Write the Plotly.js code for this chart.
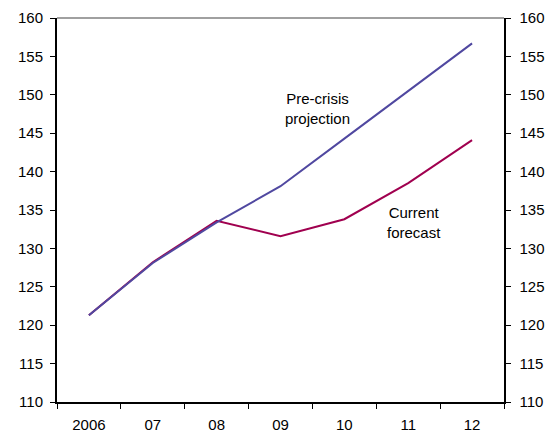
<!DOCTYPE html>
<html>
<head>
<meta charset="utf-8">
<script src="https://cdn.plot.ly/plotly-3.0.1.min.js"></script>
<style>html,body{margin:0;padding:0;background:#fff;}#chart{width:551px;height:435px;}</style>
</head>
<body>
<div id="chart"></div>
<script>
const years = ["2006", "07", "08", "09", "10", "11", "12"];
const preCrisis = [121.3, 128.1, 133.4, 138.1, 144.3, 150.5, 156.7];
const currentForecast = [121.3, 128.2, 133.6, 131.6, 133.8, 138.5, 144.1];
const yTicks = [110, 115, 120, 125, 130, 135, 140, 145, 150, 155, 160];

const font = {family: "Liberation Sans, Arial, sans-serif", size: 15, color: "#000"};

const traces = [
  {x: years, y: currentForecast, type: "scatter", mode: "lines", name: "Current forecast",
   line: {color: "#A0004F", width: 2}, hoverinfo: "skip"},
  {x: years, y: preCrisis, type: "scatter", mode: "lines", name: "Pre-crisis projection",
   line: {color: "#5048A0", width: 2}, hoverinfo: "skip"},
  {x: years, y: preCrisis, type: "scatter", mode: "lines", yaxis: "y2", opacity: 0,
   line: {width: 0}, hoverinfo: "skip", showlegend: false}
];

const layout = {
  width: 551, height: 435,
  margin: {l: 57, r: 47, t: 18, b: 33},
  paper_bgcolor: "#fff", plot_bgcolor: "#fff",
  showlegend: false,
  font: font,
  xaxis: {
    type: "category", categoryorder: "array", categoryarray: years,
    range: [-0.5, 6.5],
    tickson: "boundaries", ticks: "outside", ticklen: 5, tickcolor: "#000", tickwidth: 1,
    showline: true, linecolor: "#000", linewidth: 2,
    showgrid: false, zeroline: false, tickfont: font, ticklabelstandoff: 8
  },
  yaxis: {
    range: [110, 160], tickvals: yTicks, ticktext: yTicks.map(String),
    ticks: "outside", ticklen: 5, tickcolor: "#000",
    showline: true, linecolor: "#000", linewidth: 2,
    showgrid: false, zeroline: false, tickfont: font, ticklabelstandoff: 4
  },
  yaxis2: {
    overlaying: "y", side: "right", anchor: "x",
    range: [110, 160], tickvals: yTicks, ticktext: yTicks.map(String),
    ticks: "outside", ticklen: 5, tickcolor: "#000",
    showline: true, linecolor: "#000", linewidth: 1.5,
    showgrid: false, zeroline: false, tickfont: font, ticklabelstandoff: 6
  },
  shapes: [
    {type: "line", xref: "paper", yref: "paper", x0: 0, x1: 1, y0: 1, y1: 1,
     line: {color: "#808080", width: 1.5}}
  ],
  annotations: [
    {text: "Pre-crisis<br>projection", xref: "x", yref: "y", x: 3.58, y: 148.2,
     showarrow: false, font: font, align: "center"},
    {text: "Current<br>forecast", xref: "x", yref: "y", x: 5.09, y: 133.4,
     showarrow: false, font: font, align: "center"}
  ]
};

Plotly.newPlot("chart", traces, layout, {staticPlot: true, displayModeBar: false});
</script>
</body>
</html>
